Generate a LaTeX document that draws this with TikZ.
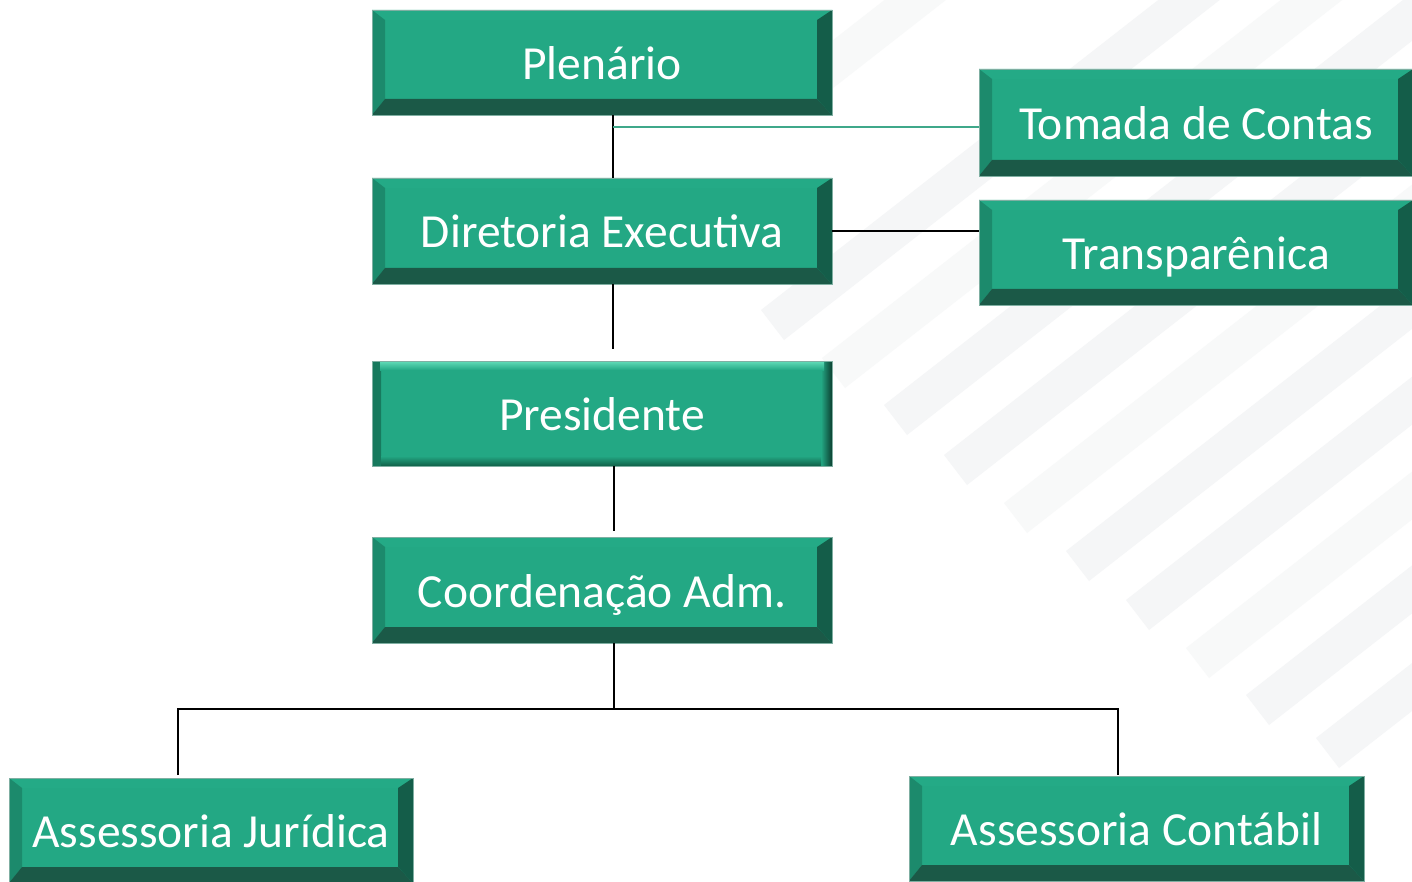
\documentclass[tikz,border=0pt]{standalone}
\usepackage{fontspec}
\setmainfont{Carlito}
\usetikzlibrary{calc}
\definecolor{face}{HTML}{23A884}
\definecolor{btop}{HTML}{24AA86}
\definecolor{bleft}{HTML}{1C8A6C}
\definecolor{bbot}{HTML}{1B5947}
\definecolor{bright}{HTML}{145D49}
\definecolor{bord}{HTML}{7FAFA2}
\definecolor{stripeA}{HTML}{F5F6F7}
\definecolor{stripeB}{HTML}{F8F9F9}
\definecolor{thinline}{HTML}{3FA88A}
\definecolor{ptop}{HTML}{62DDB9}
\definecolor{pleft}{HTML}{17795D}
\definecolor{pright}{HTML}{0C3F30}
\definecolor{pbot}{HTML}{116048}
\tikzset{
  boxtext/.style={rectangle, inner sep=0pt, text=white, font=\fontsize{47.5}{56}\selectfont,
    text height=34pt, text depth=0pt, draw=bord, line width=0.8pt, fill=face},
  bevbox/.style={boxtext, path picture={
    \fill[btop] (path picture bounding box.north west) -- (path picture bounding box.north east)
      -- ([xshift=-15pt,yshift=-10pt]path picture bounding box.north east)
      -- ([xshift=13pt,yshift=-10pt]path picture bounding box.north west) -- cycle;
    \fill[bleft] (path picture bounding box.north west)
      -- ([xshift=13pt,yshift=-10pt]path picture bounding box.north west)
      -- ([xshift=13pt,yshift=16pt]path picture bounding box.south west)
      -- (path picture bounding box.south west) -- cycle;
    \fill[bbot] (path picture bounding box.south west)
      -- ([xshift=13pt,yshift=16pt]path picture bounding box.south west)
      -- ([xshift=-15pt,yshift=16pt]path picture bounding box.south east)
      -- (path picture bounding box.south east) -- cycle;
    \fill[bright] (path picture bounding box.north east)
      -- ([xshift=-15pt,yshift=-10pt]path picture bounding box.north east)
      -- ([xshift=-15pt,yshift=16pt]path picture bounding box.south east)
      -- (path picture bounding box.south east) -- cycle;
  }},
  softbox/.style={boxtext, path picture={
    \shade[left color=pleft, right color=face] (path picture bounding box.south west) rectangle ([xshift=9pt]path picture bounding box.north west);
    \shade[left color=face, right color=pright] ([xshift=-11pt]path picture bounding box.south east) rectangle (path picture bounding box.north east);
    \shade[top color=face, bottom color=pbot] ([xshift=9pt]path picture bounding box.south west) rectangle ([xshift=-11pt,yshift=10pt]path picture bounding box.south east);
    \shade[top color=ptop, bottom color=face] ([xshift=8pt]path picture bounding box.north west) rectangle ([xshift=-8pt,yshift=-9pt]path picture bounding box.north east);
  }},
  conn/.style={draw=black, line width=2.8pt},
  thinconn/.style={draw=thinline, line width=1.3pt},
}
\begin{document}
\begin{tikzpicture}[x=1pt,y=-1pt]
\useasboundingbox (0,0) rectangle (1412,882);
\fill[white] (0,0) rectangle (1412,882);
% background stripes
\begin{scope}
\clip (0,0) rectangle (1412,882);
\foreach \px/\py/\c in {761/310/stripeA, 822/358/stripeB, 884/405/stripeA, 944/455/stripeA, 1004/503/stripeB, 1066/551/stripeA, 1126/600/stripeA, 1186/648/stripeB, 1246/695/stripeA, 1316/738/stripeA, 805/62/stripeB}{
  \fill[\c] (\px,\py) -- ++(23,30) -- ++(788,-615) -- ++(-23,-30) -- cycle;
}
\end{scope}
% boxes
\node[bevbox, minimum width=460pt, minimum height=105pt] (plen) at (602,62.5) {Plenário};
\node[bevbox, minimum width=460pt, minimum height=106pt] (dir) at (602,231) {Diretoria Executiva};
\node[softbox, minimum width=460pt, minimum height=105pt] (pres) at (602,413.5) {Presidente};
\node[bevbox, minimum width=460pt, minimum height=106pt] (coord) at (602,590) {Coordenação Adm.};
\node[bevbox, minimum width=434pt, minimum height=107pt] (tom) at (1196,122.5) {Tomada de Contas};
\node[bevbox, minimum width=434pt, minimum height=105pt] (transp) at (1196,252.5) {Transparênica};
\node[bevbox, minimum width=404pt, minimum height=105pt] (jur) at (211,830.5) {Assessoria Jurídica};
\node[bevbox, minimum width=455pt, minimum height=105pt] (cont) at (1136.5,828.5) {Assessoria Contábil};
% coordinates
\coordinate (vx) at (613,0);
\coordinate (vx2) at (614,0);
\coordinate (d1) at (613,349);
\coordinate (p1) at (614,531);
\coordinate (bus) at (614,709);
\coordinate (jl) at (178,709);
\coordinate (jend) at (178,775);
\coordinate (cl) at (1118,709);
\coordinate (cend) at (1118,775);
\coordinate (tj) at (613,127);
% connectors
\draw[conn] (plen.south -| vx) -- (dir.north -| vx);
\draw[thinconn] (tj) -- (tj -| tom.west);
\draw[conn] (dir.east) -- (dir.east -| transp.west);
\draw[conn] (dir.south -| vx) -- (d1);
\draw[conn] (pres.south -| vx2) -- (p1);
\draw[conn] (coord.south -| vx2) -- (bus);
\draw[conn] (jend) -- (jl) -- (cl) -- (cend);
\end{tikzpicture}
\end{document}
